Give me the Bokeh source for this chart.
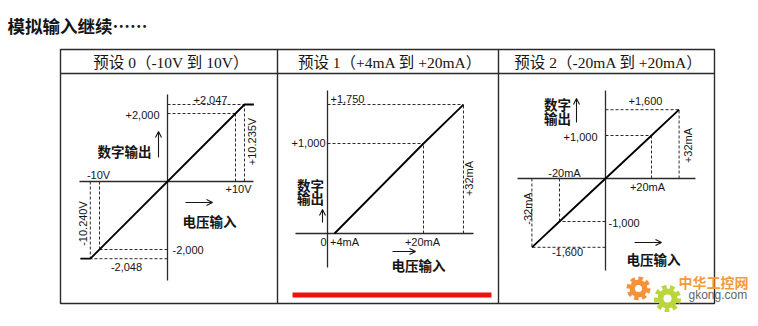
import numpy as np
from bokeh.plotting import figure
from bokeh.models import Range1d, Arrow, OpenHead
from bokeh.core.properties import value
from bokeh.embed import file_html
from bokeh.resources import INLINE

# ---------------- data ----------------
TITLE = "模拟输入继续……"
HEADERS = ["预设 0（-10V 到 10V）", "预设 1（+4mA 到 +20mA）", "预设 2（-20mA 到 +20mA）"]
Y_NAME = ["数字", "输出"]
X_NAME = "电压输入"

# preset 0 : -10V..10V  -> -2000..2000 (over-range to -10.240V / +10.235V)
P0_CURVE_IN = [-10.5, -10.24, 10.235, 10.48]
P0_CURVE_OUT = [-2048, -2048, 2047, 2047]
P0_MARK_IN = [-10.24, -10.0, 10.0, 10.235]
P0_MARK_OUT = [-2048, -2000, 2000, 2047]
P0_OUT_LABELS = ["-2,048", "-2,000", "+2,000", "+2,047"]
P0_IN_LABELS = ["-10.240V", "-10V", "+10V", "+10.235V"]

# preset 1 : +4mA..+20mA -> 0..1000 (over-range to +32mA / 1750)
P1_CURVE_IN = [4, 20, 32]
P1_CURVE_OUT = [0, 1000, 1750]
P1_MARK_IN = [20, 32]
P1_MARK_OUT = [1000, 1750]
P1_OUT_LABELS = ["+1,000", "+1,750"]
P1_IN_LABELS = ["0", "+4mA", "+20mA", "+32mA"]

# preset 2 : -20mA..+20mA -> -1000..1000 (over-range to +-32mA / +-1600)
P2_CURVE_IN = [-32, -20, 0, 20, 32]
P2_CURVE_OUT = [-1600, -1000, 0, 1000, 1600]
P2_MARK_IN = [-32, -20, 20, 32]
P2_MARK_OUT = [-1600, -1000, 1000, 1600]
P2_OUT_LABELS = ["-1,600", "-1,000", "+1,000", "+1,600"]
P2_IN_LABELS = ["-32mA", "-20mA", "+20mA", "+32mA"]

# ---------------- layout / style ----------------
W, H = 758, 326
INK = "#151515"
LINE = "#2a2a2a"
CJK = "'Noto Sans CJK SC'"
SERIF = "'Liberation Serif', 'Noto Sans CJK SC'"
SANS = "'Liberation Sans', Arial, sans-serif"

p = figure(width=W, height=H, x_range=Range1d(0, W), y_range=Range1d(H, 0),
           output_backend="svg", toolbar_location=None,
           x_axis_location=None, y_axis_location=None,
           min_border=0, outline_line_color=None,
           background_fill_color="white", border_fill_color="white")
p.xgrid.visible = False
p.ygrid.visible = False
p.grid.grid_line_color = None


def txt(x, y, s, size, font, align="center", color=INK, style="normal",
        angle=0.0, xr="default", yr="default", dx=0, dy=0):
    p.text(x=[x], y=[y], text=[s], text_font=value(font),
           text_font_size=value(f"{size}px"), text_align=value(align),
           text_baseline=value("middle"), text_color=value(color),
           text_font_style=value(style), angle=angle,
           x_offset=dx, y_offset=dy, x_range_name=xr, y_range_name=yr)


def arrow(x0, y0, x1, y1):
    p.add_layout(Arrow(x_start=x0, y_start=y0, x_end=x1, y_end=y1,
                       line_color=INK, line_width=1.1,
                       end=OpenHead(size=6, line_color=INK, line_width=1.1)))


# title
txt(7, 25, TITLE, 17.5, CJK, align="left", style="bold")

# table frame
TL, TR, TT, TB, HB = 60, 714, 49, 303, 73
COLS = [TL, 277, 498, TR]
p.quad(left=TL, right=TR, top=TT, bottom=TB, fill_color=None,
       line_color=LINE, line_width=1.4)
p.segment(x0=[TL], y0=[HB], x1=[TR], y1=[HB], line_color=LINE, line_width=1.4)
p.segment(x0=COLS[1:3], y0=[TT, TT], x1=COLS[1:3], y1=[TB, TB],
          line_color=LINE, line_width=1.4)
for i, h in enumerate(HEADERS):
    txt((COLS[i] + COLS[i + 1]) / 2 + 2, 62, h, 15.5, SERIF)

# panel scale definitions (schematic axes: origin px, px per display unit,
# knots mapping value -> display unit)
K0 = 5.63
PANELS = [
    dict(ox=167, oy=181, sx=6.8, sy=0.034,
         kx=([-11, -10, 10, 11], [-10 - K0, -10, 10, 10 + K0]),
         ky=([-2100, -2000, 2000, 2100], [-2000 - 100 * K0, -2000, 2000, 2000 + 100 * K0]),
         ax=(79, 253), ay=(94, 280)),
    dict(ox=327, oy=233, sx=4.8, sy=0.09,
         kx=([0, 4, 20, 32], [0, 1.46, 20, 28.33]),
         ky=([0, 1000, 1750], [0, 1000, 1433]),
         ax=(295, 473), ay=(90, 267)),
    dict(ox=605, oy=178, sx=2.3, sy=0.043,
         kx=([-40, 40], [-40, 40]),
         ky=([-2000, 2000], [-2000, 2000]),
         ax=(517, 695), ay=(90, 270)),
]
xr_map, yr_map = {}, {}
for i, c in enumerate(PANELS):
    xr_map[f"p{i}"] = Range1d(-c["ox"] / c["sx"], (W - c["ox"]) / c["sx"])
    yr_map[f"p{i}"] = Range1d(-(H - c["oy"]) / c["sy"], c["oy"] / c["sy"])
p.extra_x_ranges = xr_map
p.extra_y_ranges = yr_map


def dx_(i, v):
    return list(np.interp(v, *PANELS[i]["kx"]))


def dy_(i, v):
    return list(np.interp(v, *PANELS[i]["ky"]))


def draw_panel(i, cin, cout, min_, mout):
    c = PANELS[i]
    n = f"p{i}"
    # axes
    p.segment(x0=[c["ax"][0], c["ox"]], y0=[c["oy"], c["ay"][0]],
              x1=[c["ax"][1], c["ox"]], y1=[c["oy"], c["ay"][1]],
              line_color=LINE, line_width=1.3)
    mx, my = dx_(i, min_), dy_(i, mout)
    z = [0.0] * len(mx)
    # dashed guides
    p.segment(x0=z, y0=my, x1=mx, y1=my, x_range_name=n, y_range_name=n,
              line_color=LINE, line_width=1, line_dash="3 2")
    p.segment(x0=mx, y0=z, x1=mx, y1=my, x_range_name=n, y_range_name=n,
              line_color=LINE, line_width=1, line_dash="3 2")
    # transfer curve
    p.line(dx_(i, cin), dy_(i, cout), x_range_name=n, y_range_name=n,
           line_color="#000", line_width=1.8)


draw_panel(0, P0_CURVE_IN, P0_CURVE_OUT, P0_MARK_IN, P0_MARK_OUT)
draw_panel(1, P1_CURVE_IN, P1_CURVE_OUT, P1_MARK_IN, P1_MARK_OUT)
draw_panel(2, P2_CURVE_IN, P2_CURVE_OUT, P2_MARK_IN, P2_MARK_OUT)

NS = 11
R90 = np.pi / 2


def lab(i, s, vx, vy, dx, dy, align="center", angle=0.0):
    n = f"p{i}"
    txt(dx_(i, [vx])[0], dy_(i, [vy])[0], s, NS, SANS, align=align,
        angle=angle, xr=n, yr=n, dx=dx, dy=dy)


# preset 0 labels
lab(0, P0_OUT_LABELS[3], 0, P0_MARK_OUT[3], 43, -5)
lab(0, P0_OUT_LABELS[2], 0, P0_MARK_OUT[2], -8, 1, align="right")
lab(0, P0_OUT_LABELS[1], 0, P0_MARK_OUT[1], 5, 0, align="left")
lab(0, P0_OUT_LABELS[0], 0, P0_MARK_OUT[0], -41, 8)
lab(0, P0_IN_LABELS[1], P0_MARK_IN[1], 0, -1, -7)
lab(0, P0_IN_LABELS[2], P0_MARK_IN[2], 0, 3, 7)
lab(0, P0_IN_LABELS[3], P0_MARK_IN[3], 0, 8, -40, angle=R90)
lab(0, P0_IN_LABELS[0], P0_MARK_IN[0], 0, -7, 42, angle=R90)
txt(124, 150, "".join(Y_NAME), 13.5, CJK, style="bold")
arrow(158, 157, 158, 131)
arrow(185, 202, 212, 202)
txt(209, 220, X_NAME, 13.5, CJK, style="bold")

# preset 1 labels
lab(1, P1_OUT_LABELS[1], 0, P1_MARK_OUT[1], 20, -6)
lab(1, P1_OUT_LABELS[0], 0, P1_MARK_OUT[0], -2, -1, align="right")
lab(1, P1_IN_LABELS[0], 0, 0, -4, 8)
lab(1, P1_IN_LABELS[1], 4, 0, 10, 8)
lab(1, P1_IN_LABELS[2], P1_MARK_IN[0], 0, -1, 8)
lab(1, P1_IN_LABELS[3], P1_MARK_IN[1], 0, 6, -55, angle=R90)
txt(310, 184, Y_NAME[0], 13.5, CJK, style="bold")
txt(310, 197, Y_NAME[1], 13.5, CJK, style="bold")
arrow(322, 222, 322, 209)
arrow(392, 251, 415, 251)
txt(418, 264, X_NAME, 13.5, CJK, style="bold")

# preset 2 labels
lab(2, P2_OUT_LABELS[3], 0, P2_MARK_OUT[3], 40, -9)
lab(2, P2_OUT_LABELS[2], 0, P2_MARK_OUT[2], -8, 1, align="right")
lab(2, P2_OUT_LABELS[1], 0, P2_MARK_OUT[1], 3, 1, align="left")
lab(2, P2_OUT_LABELS[0], 0, P2_MARK_OUT[0], -38, 5)
lab(2, P2_IN_LABELS[2], P2_MARK_IN[2], 0, -4, 8)
lab(2, P2_IN_LABELS[3], P2_MARK_IN[3], 0, 9, -33, angle=R90)
lab(2, P2_IN_LABELS[1], P2_MARK_IN[1], 0, 5, -6)
lab(2, P2_IN_LABELS[0], P2_MARK_IN[0], 0, -4, 30, angle=R90)
txt(557, 103, Y_NAME[0], 13.5, CJK, style="bold")
txt(557, 117, Y_NAME[1], 13.5, CJK, style="bold")
arrow(576, 122, 576, 98)
arrow(634, 242, 661, 242)
txt(653, 258, X_NAME, 13.5, CJK, style="bold")

# red highlight bar under preset 1
p.quad(left=292, right=491, top=292, bottom=297, fill_color="#ee1111",
       line_color=None)

# watermark
p.circle(x=[638], y=[288], radius=9, fill_color="#f7923a", line_color="#f7923a",
         line_width=6, line_dash="4 3")
p.circle(x=[638], y=[288], radius=3.5, fill_color="white", line_color=None)
p.circle(x=[667], y=[298], radius=10, fill_color="#b9d63a", line_color="#b9d63a",
         line_width=7, line_dash="4 3")
p.circle(x=[667], y=[298], radius=4, fill_color="white", line_color=None)
txt(678, 281, "中华工控网", 14, CJK, align="left", color="#f39a3c", style="bold")
txt(688, 294, "gkong.com", 12, SANS, align="left", color="#666666")

open("out.html", "w").write(file_html(p, INLINE))
